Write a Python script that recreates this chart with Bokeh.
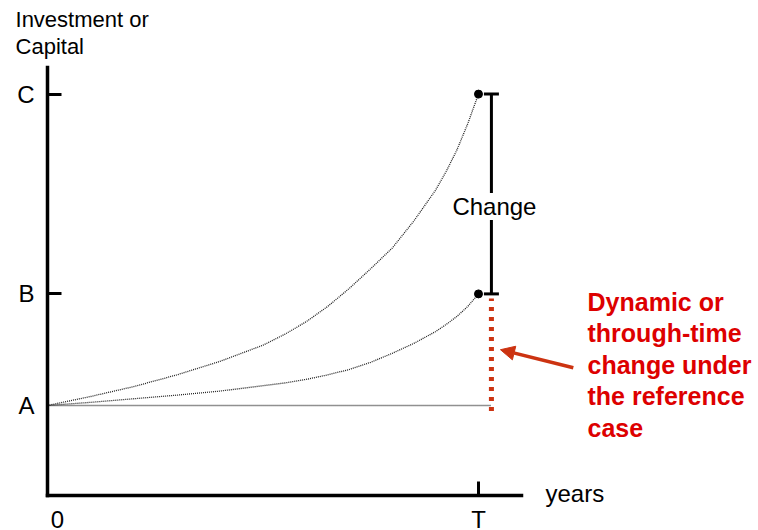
from bokeh.plotting import figure
from bokeh.models import (Range1d, FixedTicker, Label, Arrow, NormalHead, Whisker,
                          TeeHead, ColumnDataSource, LinearAxis)
from bokeh.embed import file_html
from bokeh.resources import INLINE

# ---------------- data ----------------
T = 10                       # end year "T"
A, B, C = 100, 224, 446      # levels on the vertical axis
y_tick_values = [A, B, C]
y_tick_labels = ["A", "B", "C"]
x_label_positions = [0.23, T]
x_tick_labels = ["0", "T"]

years = [0, 1, 2, 3, 4, 5, 5.5, 6, 6.5, 7, 7.5, 8, 8.5, 9, 9.25, 9.5, 9.75, 10]
upper_path = [100, 110, 121, 134, 149, 167, 179, 193, 210, 230, 252, 275, 305, 339,
              360, 384, 413, 446]
middle_path = [100, 103.5, 107.5, 111.5, 116, 122, 125, 129, 134, 140, 148, 158, 169,
               182, 190, 199, 210, 224]
flat_years = [0, 10.3]
flat_path = [100, 100]

change_x = 10.3
ref_change_low, ref_change_high = 94, 219
note_lines = ["Dynamic or", "through-time", "change under", "the reference", "case"]

FONT = "Liberation Sans"
RED_TEXT = "#dd0000"
RED_MARK = "#cc3311"
CURVE = "#222222"

# ---------------- figure ----------------
p = figure(width=758, height=530, output_backend="svg", toolbar_location=None,
           x_range=Range1d(-1.0905, 16.497), y_range=Range1d(-38.89, 550),
           min_border=0, x_axis_type=None, y_axis_type=None)
p.outline_line_color = None
p.background_fill_color = "white"
p.border_fill_color = "white"

yaxis = LinearAxis(
    fixed_location=0,
    ticker=FixedTicker(ticks=y_tick_values, minor_ticks=[B, C]),
    major_label_overrides={v: t for v, t in zip(y_tick_values, y_tick_labels)},
    bounds=(0, 476),
    axis_line_width=3.5, axis_line_color="black", axis_line_cap="square",
    major_tick_in=0, major_tick_out=0,
    minor_tick_in=14, minor_tick_out=0, minor_tick_line_width=3,
    minor_tick_line_color="black",
    major_label_text_font=FONT, major_label_text_font_size="24px",
    major_label_text_color="black", major_label_standoff=13)
p.add_layout(yaxis, "left")

xaxis = LinearAxis(
    fixed_location=0,
    ticker=FixedTicker(ticks=x_label_positions, minor_ticks=[T]),
    major_label_overrides={v: t for v, t in zip(x_label_positions, x_tick_labels)},
    bounds=(0, 11),
    axis_line_width=3.5, axis_line_color="black", axis_line_cap="square",
    major_tick_in=0, major_tick_out=0,
    minor_tick_in=14, minor_tick_out=0, minor_tick_line_width=3,
    minor_tick_line_color="black",
    major_label_text_font=FONT, major_label_text_font_size="24px",
    major_label_text_color="black", major_label_standoff=11)
p.add_layout(xaxis, "below")

p.add_layout(Label(x=11.555, y=2, text="years",
                   text_align="left", text_baseline="alphabetic",
                   text_font=FONT, text_font_size="24px", text_color="black"))

p.add_layout(Label(x=-0.742, y=529, text="Investment or",
                   text_align="left", text_baseline="alphabetic",
                   text_font=FONT, text_font_size="22px", text_color="black"))
p.add_layout(Label(x=-0.742, y=499, text="Capital",
                   text_align="left", text_baseline="alphabetic",
                   text_font=FONT, text_font_size="22px", text_color="black"))

# paths
p.line(years, upper_path, line_dash="1 1", line_width=1.3, line_color=CURVE)
p.line(years, middle_path, line_dash="1 1", line_width=1.3, line_color=CURVE)
p.line(flat_years, flat_path, line_dash="1 1", line_width=1.3, line_color=CURVE)
p.scatter([T, T], [B, C], size=8, color="black")

# reference-case change (red dotted)
p.segment(x0=[change_x], y0=[ref_change_low], x1=[change_x], y1=[ref_change_high],
          line_width=5, line_color=RED_MARK, line_dash="4 6")

# change bar
wsrc = ColumnDataSource(dict(base=[change_x], lower=[B], upper=[C]))
p.add_layout(Whisker(source=wsrc, base="base", lower="lower", upper="upper",
                     dimension="height", line_width=3, line_color="black",
                     lower_head=TeeHead(size=15, line_width=3, line_color="black"),
                     upper_head=TeeHead(size=15, line_width=3, line_color="black")))
p.add_layout(Label(x=change_x, y=321, text="Change", x_offset=3,
                   text_align="center", text_baseline="middle",
                   background_fill_color="white",
                   text_font=FONT, text_font_size="24px", text_color="black"))

# arrow
p.add_layout(Arrow(end=NormalHead(size=14, fill_color=RED_MARK, line_color=RED_MARK),
                   x_start=12.2, y_start=142, x_end=10.51, y_end=162,
                   line_width=3.5, line_color=RED_MARK))

# red note
for i, line in enumerate(note_lines):
    p.add_layout(Label(x=12.53, y=215, y_offset=-31.5 * i, text=line,
                       text_align="left", text_baseline="alphabetic",
                       text_font=FONT, text_font_size="25px",
                       text_font_style="bold", text_color=RED_TEXT))

open("out.html", "w").write(file_html(p, INLINE))
